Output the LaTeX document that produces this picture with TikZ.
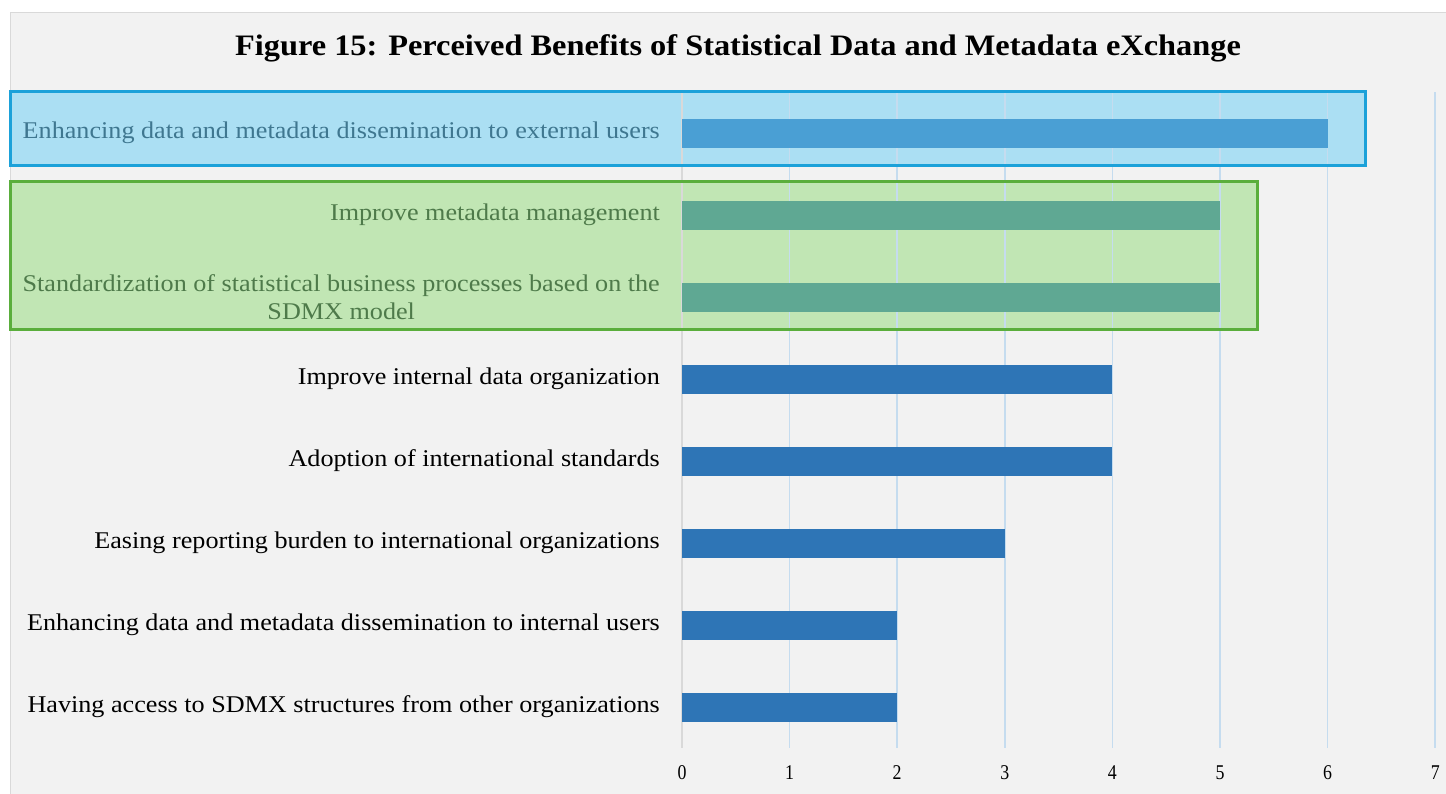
\documentclass[tikz,border=0pt]{standalone}
\usepackage{fontspec}
\setmainfont[FakeStretch=1.09]{Liberation Serif}
\newfontfamily\tickfont[FakeStretch=0.85]{Liberation Serif}
\definecolor{panel}{HTML}{F2F2F2}
\definecolor{panelborder}{HTML}{D9D9D9}
\definecolor{grid}{HTML}{C5DCEF}
\definecolor{barblue}{HTML}{2E75B6}
\definecolor{bartop}{HTML}{4A9FD4}
\definecolor{bargreen}{HTML}{5FA893}
\definecolor{boxblue}{HTML}{ABDFF3}
\definecolor{boxblueline}{HTML}{1BA1D9}
\definecolor{boxgreen}{HTML}{C1E6B4}
\definecolor{boxgreenline}{HTML}{5AAE3C}
\definecolor{txtblue}{HTML}{3F7790}
\definecolor{txtgreen}{HTML}{4E7A4A}
\tikzset{
  lbl/.style={anchor=east, align=right, font=\fontsize{24}{28}\selectfont, inner sep=0pt},
  tick/.style={font=\tickfont\fontsize{21}{22}\selectfont, inner sep=0pt},
  gridline/.style={draw=grid, line width=1.5pt},
}
\begin{document}
\begin{tikzpicture}[x=1pt,y=-1pt]
\useasboundingbox (0,0) rectangle (1446,793);
\fill[white] (0,0) rectangle (1446,793);
\filldraw[fill=panel, draw=panelborder, line width=1pt] (10,12) rectangle (1450,800);
% title
\node[font=\fontsize{29.7}{34}\selectfont\bfseries, inner sep=0pt] (title) at (738,48) {Figure 15: Perceived Benefits of Statistical Data and Metadata eXchange};
% highlight boxes (fill)
\fill[boxblue] (10,91) rectangle (1365,165);
\fill[boxgreen] (10,181) rectangle (1257,329);
% grid
\draw[draw=panelborder, line width=1.5pt] (682,92) -- (682,748);
\foreach \v in {1,...,7} {
  \draw[gridline] ({682+\v*107.6},92) -- ({682+\v*107.6},748);
}
% bars
\fill[bartop] (682,118.5) rectangle ({682+6*107.6},147.5);
\fill[bargreen] (682,200.5) rectangle ({682+5*107.6},229.5);
\fill[bargreen] (682,282.5) rectangle ({682+5*107.6},311.5);
\fill[barblue] (682,364.5) rectangle ({682+4*107.6},393.5);
\fill[barblue] (682,446.5) rectangle ({682+4*107.6},475.5);
\fill[barblue] (682,528.5) rectangle ({682+3*107.6},557.5);
\fill[barblue] (682,610.5) rectangle ({682+2*107.6},639.5);
\fill[barblue] (682,692.5) rectangle ({682+2*107.6},721.5);
% box borders
\draw[boxblueline, line width=3pt] (10,91) rectangle (1365,165);
\draw[boxgreenline, line width=3pt] (10,181) rectangle (1257,329);
% labels
\node[lbl, text=txtblue] (l1) at (660,133) {Enhancing data and metadata dissemination to external users};
\node[lbl, text=txtgreen] (l2) at (660,215) {Improve metadata management};
\node[lbl, text=txtgreen] (l3) at (660,297) {Standardization of statistical business processes based on the\\\hspace*{0pt}\hfill SDMX model\hfill\hspace*{0pt}};
\node[lbl] (l4) at (660,379) {Improve internal data organization};
\node[lbl] (l5) at (660,461) {Adoption of international standards};
\node[lbl] (l6) at (660,543) {Easing reporting burden to international organizations};
\node[lbl] (l7) at (660,625) {Enhancing data and metadata dissemination to internal users};
\node[lbl] (l8) at (660,707) {Having access to SDMX structures from other organizations};
% ticks
\foreach \v in {0,...,7} {
  \node[tick] (t\v) at ({682+\v*107.6},773) {\v};
}
\end{tikzpicture}
\end{document}
